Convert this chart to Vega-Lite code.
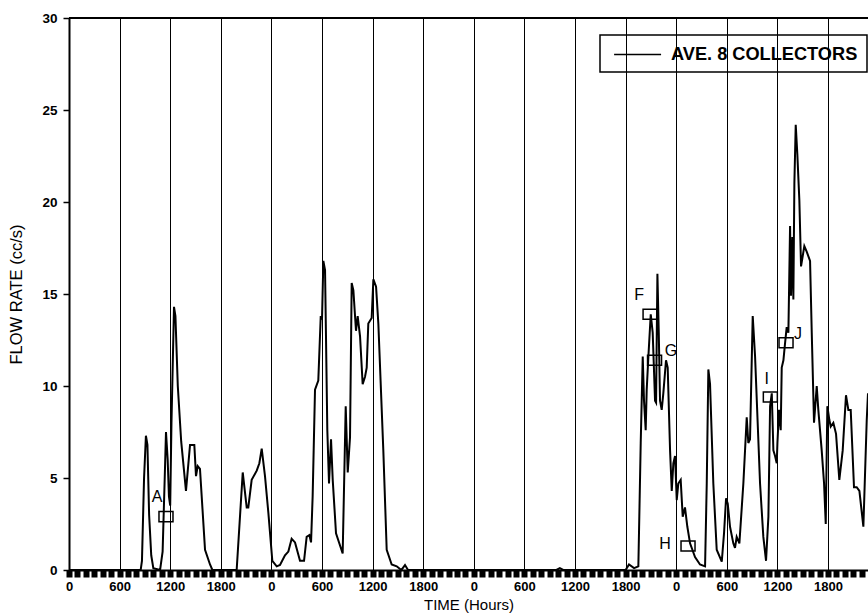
{
  "$schema": "https://vega.github.io/schema/vega-lite/v6.json",
  "width": 799,
  "height": 552,
  "autosize": {"type": "none"},
  "padding": {"left": 69, "top": 18, "right": 0, "bottom": 46},
  "background": "white",
  "config": {
    "view": {"stroke": null},
    "font": "Liberation Sans",
    "legend": {"strokeWidth": 1.5},
    "axisX": {
      "title": "TIME (Hours)",
      "titleFont": "Liberation Sans", "titleFontSize": 15, "titleFontWeight": "normal", "titleColor": "black",
      "titlePadding": 4,
      "labelOverlap": false, "labelFlush": false,
      "labelFont": "Liberation Sans", "labelFontSize": 13, "labelFontWeight": "bold", "labelColor": "black",
      "labelPadding": 3,
      "domain": true, "domainColor": "black", "domainWidth": 2,
      "ticks": true, "tickColor": "black", "tickSize": 7, "tickWidth": 6,
      "grid": true, "gridColor": "black", "gridWidth": 1
    },
    "axisY": {
      "titleFont": "Liberation Sans", "titleFontSize": 16.5, "titleFontWeight": "normal", "titleColor": "black",
      "titlePadding": 17,
      "labelFont": "Liberation Sans", "labelFontSize": 13.5, "labelFontWeight": "bold", "labelColor": "black",
      "labelPadding": 6,
      "domain": true, "domainColor": "black", "domainWidth": 2,
      "ticks": true, "tickColor": "black", "tickSize": 6, "tickWidth": 1.5,
      "grid": false
    }
  },
  "datasets": {
    "flow": [
      {"hours": 0, "flow": 0}, {"hours": 850, "flow": 0}, {"hours": 865, "flow": 0.5}, {"hours": 890, "flow": 5},
      {"hours": 912, "flow": 7.3}, {"hours": 930, "flow": 6.8}, {"hours": 950, "flow": 3}, {"hours": 975, "flow": 0.8},
      {"hours": 1000, "flow": 0.1}, {"hours": 1080, "flow": 0}, {"hours": 1110, "flow": 1}, {"hours": 1135, "flow": 5},
      {"hours": 1150, "flow": 7.5}, {"hours": 1170, "flow": 6}, {"hours": 1185, "flow": 4}, {"hours": 1200, "flow": 3.5},
      {"hours": 1215, "flow": 8}, {"hours": 1245, "flow": 14.3}, {"hours": 1262, "flow": 13.8}, {"hours": 1290, "flow": 10},
      {"hours": 1330, "flow": 7}, {"hours": 1387, "flow": 4.3}, {"hours": 1435, "flow": 6.8}, {"hours": 1486, "flow": 6.8},
      {"hours": 1506, "flow": 5.1}, {"hours": 1526, "flow": 5.65}, {"hours": 1553, "flow": 5.5}, {"hours": 1613, "flow": 1.1},
      {"hours": 1672, "flow": 0.3}, {"hours": 1700, "flow": 0}, {"hours": 1988, "flow": 0}, {"hours": 2060, "flow": 5.3},
      {"hours": 2107, "flow": 3.4}, {"hours": 2126, "flow": 3.4}, {"hours": 2166, "flow": 4.9}, {"hours": 2226, "flow": 5.4},
      {"hours": 2257, "flow": 5.8}, {"hours": 2285, "flow": 6.6}, {"hours": 2324, "flow": 5.1}, {"hours": 2364, "flow": 3.1},
      {"hours": 2411, "flow": 0.5}, {"hours": 2463, "flow": 0.2}, {"hours": 2502, "flow": 0.27}, {"hours": 2561, "flow": 0.8},
      {"hours": 2601, "flow": 1.0}, {"hours": 2640, "flow": 1.7}, {"hours": 2680, "flow": 1.5}, {"hours": 2739, "flow": 0.5},
      {"hours": 2787, "flow": 0.5}, {"hours": 2818, "flow": 1.8}, {"hours": 2850, "flow": 1.9}, {"hours": 2870, "flow": 1.5},
      {"hours": 2889, "flow": 4}, {"hours": 2917, "flow": 9.8}, {"hours": 2956, "flow": 10.3}, {"hours": 2985, "flow": 13.8},
      {"hours": 3000, "flow": 13.6}, {"hours": 3016, "flow": 16.8}, {"hours": 3036, "flow": 16.3}, {"hours": 3063, "flow": 7.6},
      {"hours": 3083, "flow": 4.7}, {"hours": 3107, "flow": 7.1}, {"hours": 3127, "flow": 4.9}, {"hours": 3166, "flow": 2.0},
      {"hours": 3245, "flow": 0.9}, {"hours": 3281, "flow": 8.9}, {"hours": 3305, "flow": 5.3}, {"hours": 3332, "flow": 7.2},
      {"hours": 3352, "flow": 15.6}, {"hours": 3372, "flow": 15.2}, {"hours": 3403, "flow": 13.0}, {"hours": 3423, "flow": 13.8},
      {"hours": 3451, "flow": 12.7}, {"hours": 3482, "flow": 10.1}, {"hours": 3510, "flow": 10.5}, {"hours": 3530, "flow": 11.0},
      {"hours": 3549, "flow": 13.4}, {"hours": 3589, "flow": 13.7}, {"hours": 3609, "flow": 15.8}, {"hours": 3641, "flow": 15.4},
      {"hours": 3668, "flow": 13.4}, {"hours": 3727, "flow": 6.5}, {"hours": 3767, "flow": 1.1}, {"hours": 3826, "flow": 0.3},
      {"hours": 3886, "flow": 0.2}, {"hours": 3940, "flow": 0}, {"hours": 3984, "flow": 0.27}, {"hours": 4020, "flow": 0},
      {"hours": 5780, "flow": 0}, {"hours": 5820, "flow": 0.1}, {"hours": 5860, "flow": 0}, {"hours": 6600, "flow": 0},
      {"hours": 6640, "flow": 0.3}, {"hours": 6700, "flow": 0.1}, {"hours": 6751, "flow": 0.2}, {"hours": 6779, "flow": 6.9},
      {"hours": 6803, "flow": 11.6}, {"hours": 6818, "flow": 9.2}, {"hours": 6838, "flow": 7.6}, {"hours": 6850, "flow": 9.8},
      {"hours": 6870, "flow": 11.6}, {"hours": 6898, "flow": 13.9}, {"hours": 6921, "flow": 12.9}, {"hours": 6949, "flow": 9.2},
      {"hours": 6961, "flow": 9.1}, {"hours": 6977, "flow": 16.1}, {"hours": 6993, "flow": 12.9}, {"hours": 7008, "flow": 9.2},
      {"hours": 7028, "flow": 8.7}, {"hours": 7047, "flow": 9.6}, {"hours": 7079, "flow": 11.4}, {"hours": 7099, "flow": 11.0},
      {"hours": 7127, "flow": 6.5}, {"hours": 7147, "flow": 4.3}, {"hours": 7166, "flow": 5.8}, {"hours": 7186, "flow": 6.2},
      {"hours": 7206, "flow": 3.8}, {"hours": 7225, "flow": 4.7}, {"hours": 7253, "flow": 4.9}, {"hours": 7277, "flow": 2.9},
      {"hours": 7304, "flow": 3.4}, {"hours": 7332, "flow": 2.35}, {"hours": 7364, "flow": 1.45}, {"hours": 7423, "flow": 0.7},
      {"hours": 7482, "flow": 0.3}, {"hours": 7542, "flow": 0.2}, {"hours": 7562, "flow": 4.7}, {"hours": 7581, "flow": 10.9},
      {"hours": 7601, "flow": 10.1}, {"hours": 7640, "flow": 4.7}, {"hours": 7680, "flow": 1.1}, {"hours": 7740, "flow": 0.45},
      {"hours": 7767, "flow": 2.0}, {"hours": 7791, "flow": 3.9}, {"hours": 7811, "flow": 3.6}, {"hours": 7838, "flow": 2.35},
      {"hours": 7877, "flow": 1.45}, {"hours": 7897, "flow": 1.2}, {"hours": 7917, "flow": 1.8}, {"hours": 7949, "flow": 1.45},
      {"hours": 7996, "flow": 4.7}, {"hours": 8036, "flow": 8.3}, {"hours": 8055, "flow": 6.9}, {"hours": 8075, "flow": 7.1},
      {"hours": 8107, "flow": 13.8}, {"hours": 8135, "flow": 11.6}, {"hours": 8194, "flow": 4.7}, {"hours": 8233, "flow": 1.8},
      {"hours": 8265, "flow": 0.5}, {"hours": 8293, "flow": 2.9}, {"hours": 8313, "flow": 8.9}, {"hours": 8333, "flow": 9.6},
      {"hours": 8352, "flow": 6.5}, {"hours": 8372, "flow": 6.2}, {"hours": 8392, "flow": 5.8}, {"hours": 8400, "flow": 6.9},
      {"hours": 8419, "flow": 8.7}, {"hours": 8439, "flow": 7.6}, {"hours": 8451, "flow": 11.0}, {"hours": 8471, "flow": 11.4},
      {"hours": 8490, "flow": 12.3}, {"hours": 8510, "flow": 13.2}, {"hours": 8530, "flow": 12.9}, {"hours": 8550, "flow": 18.7},
      {"hours": 8561, "flow": 14.9}, {"hours": 8577, "flow": 18.1}, {"hours": 8589, "flow": 14.7}, {"hours": 8601, "flow": 21.0},
      {"hours": 8617, "flow": 24.2}, {"hours": 8636, "flow": 22.6}, {"hours": 8660, "flow": 20.1}, {"hours": 8680, "flow": 16.5},
      {"hours": 8719, "flow": 17.6}, {"hours": 8747, "flow": 17.3}, {"hours": 8787, "flow": 16.8}, {"hours": 8807, "flow": 12.9},
      {"hours": 8834, "flow": 8.0}, {"hours": 8866, "flow": 10.0}, {"hours": 8885, "flow": 8.7}, {"hours": 8925, "flow": 6.5},
      {"hours": 8953, "flow": 4.7}, {"hours": 8973, "flow": 2.5}, {"hours": 8992, "flow": 8.9}, {"hours": 9016, "flow": 8.15},
      {"hours": 9032, "flow": 7.8}, {"hours": 9063, "flow": 8.0}, {"hours": 9095, "flow": 7.4}, {"hours": 9134, "flow": 4.9},
      {"hours": 9174, "flow": 6.5}, {"hours": 9213, "flow": 9.5}, {"hours": 9241, "flow": 8.7}, {"hours": 9269, "flow": 8.7},
      {"hours": 9308, "flow": 4.5}, {"hours": 9340, "flow": 4.5}, {"hours": 9372, "flow": 4.3}, {"hours": 9419, "flow": 2.35},
      {"hours": 9459, "flow": 8.15}, {"hours": 9474, "flow": 9.6}
    ],
    "boxes": [
      {"hours": 1150, "flow": 2.9},
      {"hours": 6890, "flow": 13.9},
      {"hours": 6943, "flow": 11.4},
      {"hours": 7340, "flow": 1.3},
      {"hours": 8316, "flow": 9.4},
      {"hours": 8502, "flow": 12.35}
    ],
    "labels": [
      {"hours": 1043, "flow": 3.97, "label": "A"},
      {"hours": 6759, "flow": 14.95, "label": "F"},
      {"hours": 7139, "flow": 11.9, "label": "G"},
      {"hours": 7067, "flow": 1.41, "label": "H"},
      {"hours": 8273, "flow": 10.4, "label": "I"},
      {"hours": 8644, "flow": 12.8, "label": "J"}
    ]
  },
  "layer": [
    {
      "data": {"name": "flow"},
      "mark": {"type": "line", "strokeWidth": 2, "interpolate": "linear"},
      "encoding": {
        "x": {
          "field": "hours", "type": "quantitative",
          "scale": {"domain": [0, 9474], "nice": false, "zero": false},
          "axis": {
            "title": "TIME (Hours)",
            "values": [0,100,200,300,400,500,600,700,800,900,1000,1100,1200,1300,1400,1500,1600,1700,1800,1900,2000,2100,2200,2300,2400,2500,2600,2700,2800,2900,3000,3100,3200,3300,3400,3500,3600,3700,3800,3900,4000,4100,4200,4300,4400,4500,4600,4700,4800,4900,5000,5100,5200,5300,5400,5500,5600,5700,5800,5900,6000,6100,6200,6300,6400,6500,6600,6700,6800,6900,7000,7100,7200,7300,7400,7500,7600,7700,7800,7900,8000,8100,8200,8300,8400,8500,8600,8700,8800,8900,9000,9100,9200,9300,9400],
            "labelExpr": "datum.value % 600 === 0 ? '' + (datum.value % 2400) : ''",
            "gridOpacity": {"condition": {"test": "datum.value % 600 === 0 && datum.value > 0", "value": 1}, "value": 0}
          }
        },
        "y": {
          "field": "flow", "type": "quantitative",
          "scale": {"domain": [0, 30], "nice": false},
          "axis": {"title": "FLOW RATE (cc/s)", "values": [0, 5, 10, 15, 20, 25, 30]}
        },
        "color": {
          "datum": "AVE. 8 COLLECTORS",
          "scale": {"range": ["black"]},
          "legend": {
            "orient": "none", "legendX": 531, "legendY": 17,
            "title": null,
            "symbolType": "M-0.574,0L4.426,0", "symbolSize": 353, "symbolStrokeWidth": 1.5,
            "symbolStrokeColor": "black", "symbolFillColor": "transparent",
            "labelFont": "Liberation Sans", "labelFontWeight": "bold", "labelFontSize": 18.2, "labelColor": "black",
            "labelLimit": 400,
            "labelOffset": 41, "padding": 9,
            "strokeColor": "black"
          }
        }
      }
    },
    {
      "data": {"values": [{}]},
      "mark": {"type": "rule", "color": "black", "strokeWidth": 2},
      "encoding": {
        "y": {"datum": 30, "type": "quantitative", "axis": {"title": "FLOW RATE (cc/s)", "values": [0, 5, 10, 15, 20, 25, 30]}}
      }
    },
    {
      "data": {"name": "boxes"},
      "mark": {"type": "point", "shape": "M-1,-0.72L1,-0.72L1,0.72L-1,0.72Z", "filled": false, "stroke": "black", "strokeWidth": 1.5, "size": 196, "opacity": 1},
      "encoding": {
        "x": {
          "field": "hours", "type": "quantitative",
          "axis": {
            "title": "TIME (Hours)",
            "values": [0,100,200,300,400,500,600,700,800,900,1000,1100,1200,1300,1400,1500,1600,1700,1800,1900,2000,2100,2200,2300,2400,2500,2600,2700,2800,2900,3000,3100,3200,3300,3400,3500,3600,3700,3800,3900,4000,4100,4200,4300,4400,4500,4600,4700,4800,4900,5000,5100,5200,5300,5400,5500,5600,5700,5800,5900,6000,6100,6200,6300,6400,6500,6600,6700,6800,6900,7000,7100,7200,7300,7400,7500,7600,7700,7800,7900,8000,8100,8200,8300,8400,8500,8600,8700,8800,8900,9000,9100,9200,9300,9400],
            "labelExpr": "datum.value % 600 === 0 ? '' + (datum.value % 2400) : ''",
            "gridOpacity": {"condition": {"test": "datum.value % 600 === 0 && datum.value > 0", "value": 1}, "value": 0}
          }
        },
        "y": {"field": "flow", "type": "quantitative", "axis": {"title": "FLOW RATE (cc/s)", "values": [0, 5, 10, 15, 20, 25, 30]}}
      }
    },
    {
      "data": {"name": "labels"},
      "mark": {"type": "text", "font": "Liberation Sans", "fontSize": 16, "color": "black", "align": "center", "baseline": "middle"},
      "encoding": {
        "x": {
          "field": "hours", "type": "quantitative",
          "axis": {
            "title": "TIME (Hours)",
            "values": [0,100,200,300,400,500,600,700,800,900,1000,1100,1200,1300,1400,1500,1600,1700,1800,1900,2000,2100,2200,2300,2400,2500,2600,2700,2800,2900,3000,3100,3200,3300,3400,3500,3600,3700,3800,3900,4000,4100,4200,4300,4400,4500,4600,4700,4800,4900,5000,5100,5200,5300,5400,5500,5600,5700,5800,5900,6000,6100,6200,6300,6400,6500,6600,6700,6800,6900,7000,7100,7200,7300,7400,7500,7600,7700,7800,7900,8000,8100,8200,8300,8400,8500,8600,8700,8800,8900,9000,9100,9200,9300,9400],
            "labelExpr": "datum.value % 600 === 0 ? '' + (datum.value % 2400) : ''",
            "gridOpacity": {"condition": {"test": "datum.value % 600 === 0 && datum.value > 0", "value": 1}, "value": 0}
          }
        },
        "y": {"field": "flow", "type": "quantitative", "axis": {"title": "FLOW RATE (cc/s)", "values": [0, 5, 10, 15, 20, 25, 30]}},
        "text": {"field": "label"}
      }
    }
  ]
}
